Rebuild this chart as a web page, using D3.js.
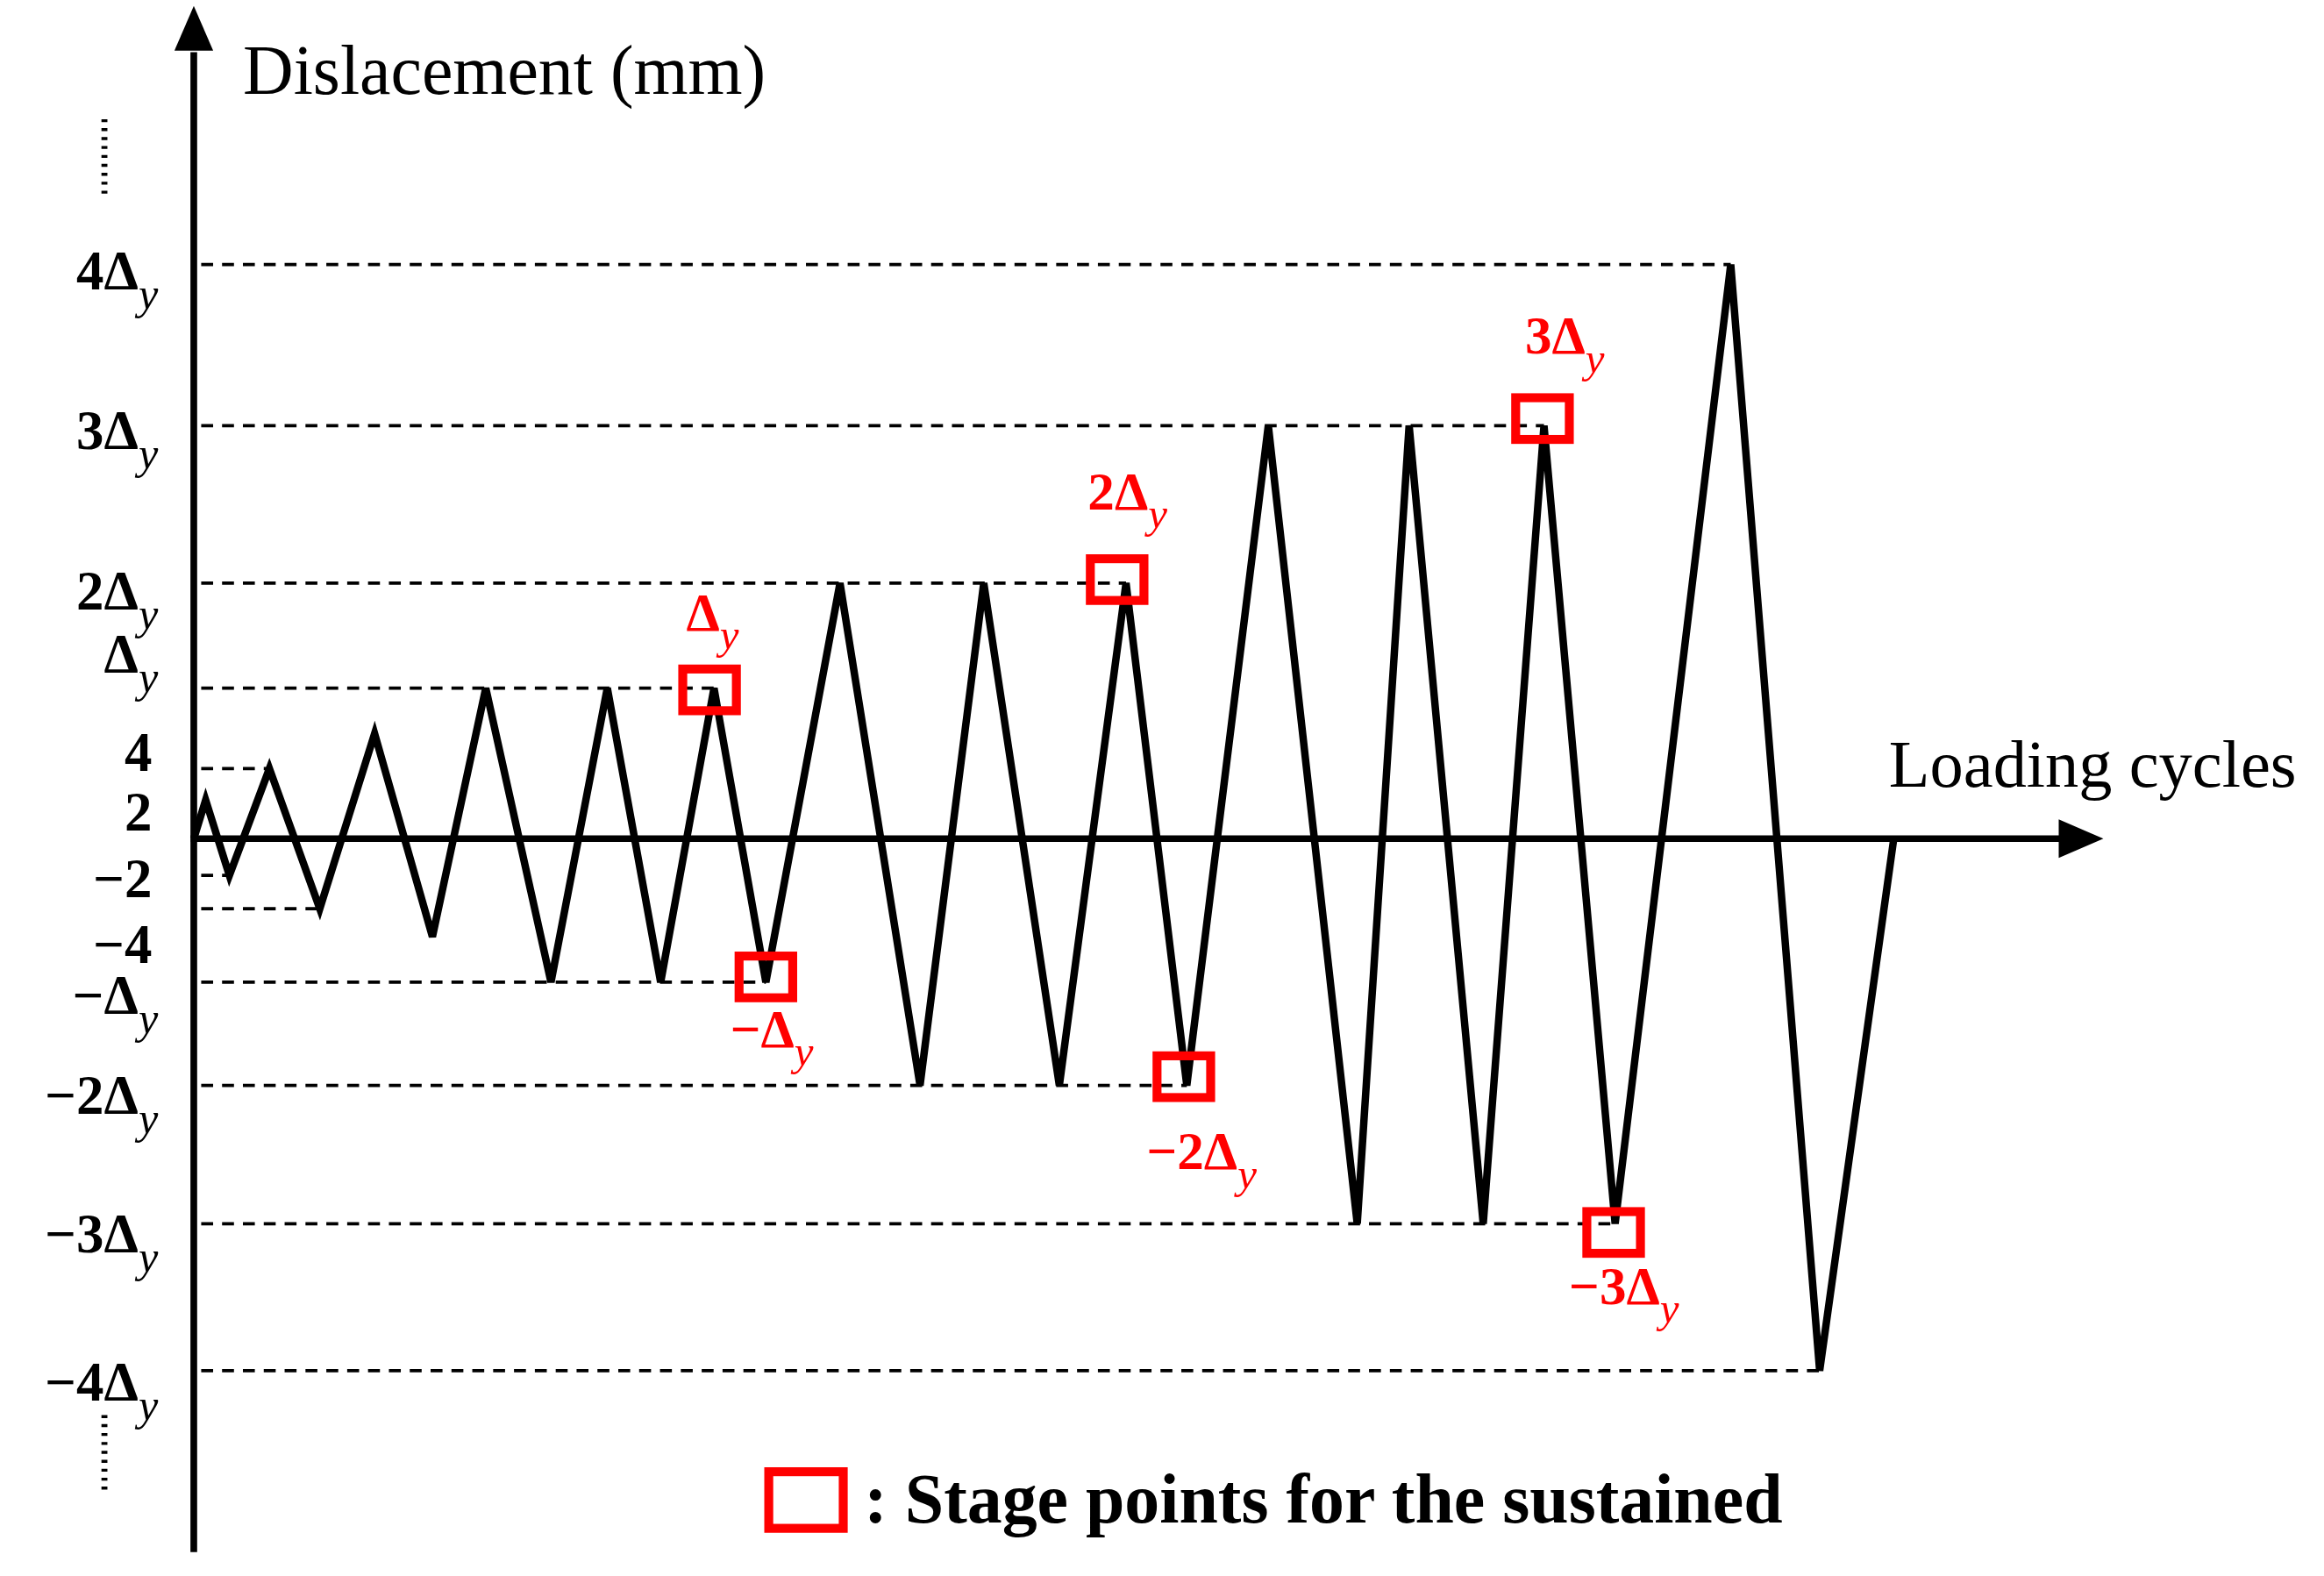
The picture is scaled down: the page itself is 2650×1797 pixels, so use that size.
<!DOCTYPE html>
<html><head><meta charset="utf-8">
<script src="https://cdn.jsdelivr.net/npm/d3@7"></script>
<style>body{margin:0;background:#fff}text{font-family:"Liberation Serif",serif}</style>
</head><body><svg id="c"></svg>
<script>
// displacement levels (chart units, 0 = x axis)
const levelVals = [32.8, 23.6, 14.6, 8.6, 4, -2.1, -4, -8.2, -14.1, -22, -30.4];
const levelEnds = [103.7, 91.1, 62.9, 35.1, 5.1, 2.4, 8.5, 38.6, 67, 95.9, 109.7];
// tick labels: [main, subscript, value at baseline]
const tickLabels = [
  ["4Δ", "y", 32.4], ["3Δ", "y", 23.3], ["2Δ", "y", 14.1], ["Δ", "y", 10.5],
  ["4", "", 4.9], ["2", "", 1.5], ["−2", "", -2.3], ["−4", "", -6.1],
  ["−Δ", "y", -9.0], ["−2Δ", "y", -14.7], ["−3Δ", "y", -22.6], ["−4Δ", "y", -31.1]
];
// loading history vertices: cycle position, displacement
const cycT = [0, 0.8, 2.4, 5.1, 8.5, 12.2, 16.1, 19.7, 24.1, 27.9, 31.5, 35.1, 38.6, 43.6, 49, 53.3, 58.4, 62.9, 67, 72.5, 78.5, 82, 87, 91.1, 95.9, 103.7, 109.7, 114.7];
const cycD = [0, 2.2, -2.1, 4, -4, 6, -5.6, 8.6, -8.2, 8.6, -8.2, 8.6, -8.2, 14.6, -14.1, 14.6, -14.1, 14.6, -14.1, 23.6, -22, 23.6, -22, 23.6, -22, 32.8, -30.4, 0];
// sustained stage points
const stageT = [34.8, 38.6, 62.3, 66.8, 91, 95.8];
const stageD = [8.5, -7.9, 14.8, -13.6, 24, -22.5];
const stageLab = [["Δ", "y"], ["−Δ", "y"], ["2Δ", "y"], ["−2Δ", "y"], ["3Δ", "y"], ["−3Δ", "y"]];
const stageLabT = [35, 39, 63, 68, 92.5, 96.5];
const stageLabD = [11.9, -11.9, 18.8, -18.9, 27.7, -26.6];

const svg = d3.select("#c").attr("width", 2650).attr("height", 1797).attr("viewBox", "0 0 1560 1058");
const x = d3.scaleLinear().domain([0, 10]).range([130, 229.5]);
const y = d3.scaleLinear().domain([0, 10]).range([563, 445.5]);

// dashed reference lines
svg.selectAll(".lvl").data(levelVals).join("line")
  .attr("x1", x(0.5)).attr("x2", (d, i) => x(levelEnds[i]))
  .attr("y1", d => y(d)).attr("y2", d => y(d))
  .attr("stroke", "#000").attr("stroke-width", 2.2).attr("stroke-dasharray", "8,6");

// axes
svg.append("line").attr("x1", 130).attr("x2", 130).attr("y1", 1042).attr("y2", 35)
  .attr("stroke", "#000").attr("stroke-width", 4.5);
svg.append("path").attr("d", "M130,4L117,34L143,34Z");
svg.append("line").attr("x1", 128).attr("x2", 1385).attr("y1", y(0)).attr("y2", y(0))
  .attr("stroke", "#000").attr("stroke-width", 4.5);
svg.append("path").attr("d", `M1412,${y(0)}L1382,${y(0) - 13}L1382,${y(0) + 13}Z`);

// loading path
svg.append("path").datum(d3.range(cycT.length))
  .attr("d", d3.line().x(i => x(cycT[i])).y(i => y(cycD[i])))
  .attr("fill", "none").attr("stroke", "#000").attr("stroke-width", 5);

// dotted continuation marks
[[80, 132], [950, 1003]].forEach(([a, b]) => svg.append("line").attr("x1", 70).attr("x2", 70)
  .attr("y1", a).attr("y2", b).attr("stroke", "#000").attr("stroke-width", 4).attr("stroke-dasharray", "2,4"));

function label(g, main, sub, size, color) {
  const t = g.append("text").attr("fill", color).attr("font-weight", "bold").attr("font-size", size);
  t.append("tspan").text(main);
  if (sub) t.append("tspan").text(sub).attr("font-style", "italic").attr("font-weight", "normal")
    .attr("font-size", size * 0.8).attr("dy", size * 0.35);
  return t;
}
tickLabels.forEach(([m, s, v]) => {
  label(svg, m, s, 37, "#000").attr("x", s ? 106 : 102).attr("y", y(v) + 12).attr("text-anchor", "end");
});

// stage squares
svg.selectAll(".st").data(stageT).join("rect")
  .attr("x", d => x(d) - 18).attr("y", (d, i) => y(stageD[i]) - 14)
  .attr("width", 36).attr("height", 28).attr("fill", "none").attr("stroke", "#f00").attr("stroke-width", 6);
stageLab.forEach(([m, s], i) => label(svg, m, s, 36, "#f00")
  .attr("x", x(stageLabT[i])).attr("y", y(stageLabD[i])).attr("text-anchor", "middle"));

// titles
svg.append("text").attr("x", 163).attr("y", 63).attr("font-size", 47).text("Dislacement (mm)");
svg.append("text").attr("x", 1268).attr("y", 528).attr("font-size", 45).text("Loading cycles");

// legend
svg.append("rect").attr("x", 516).attr("y", 988).attr("width", 50).attr("height", 38)
  .attr("fill", "none").attr("stroke", "#f00").attr("stroke-width", 6);
svg.append("text").attr("x", 580).attr("y", 1022).attr("font-size", 47).attr("font-weight", "bold")
  .text(": Stage points for the sustained");
</script></body></html>
